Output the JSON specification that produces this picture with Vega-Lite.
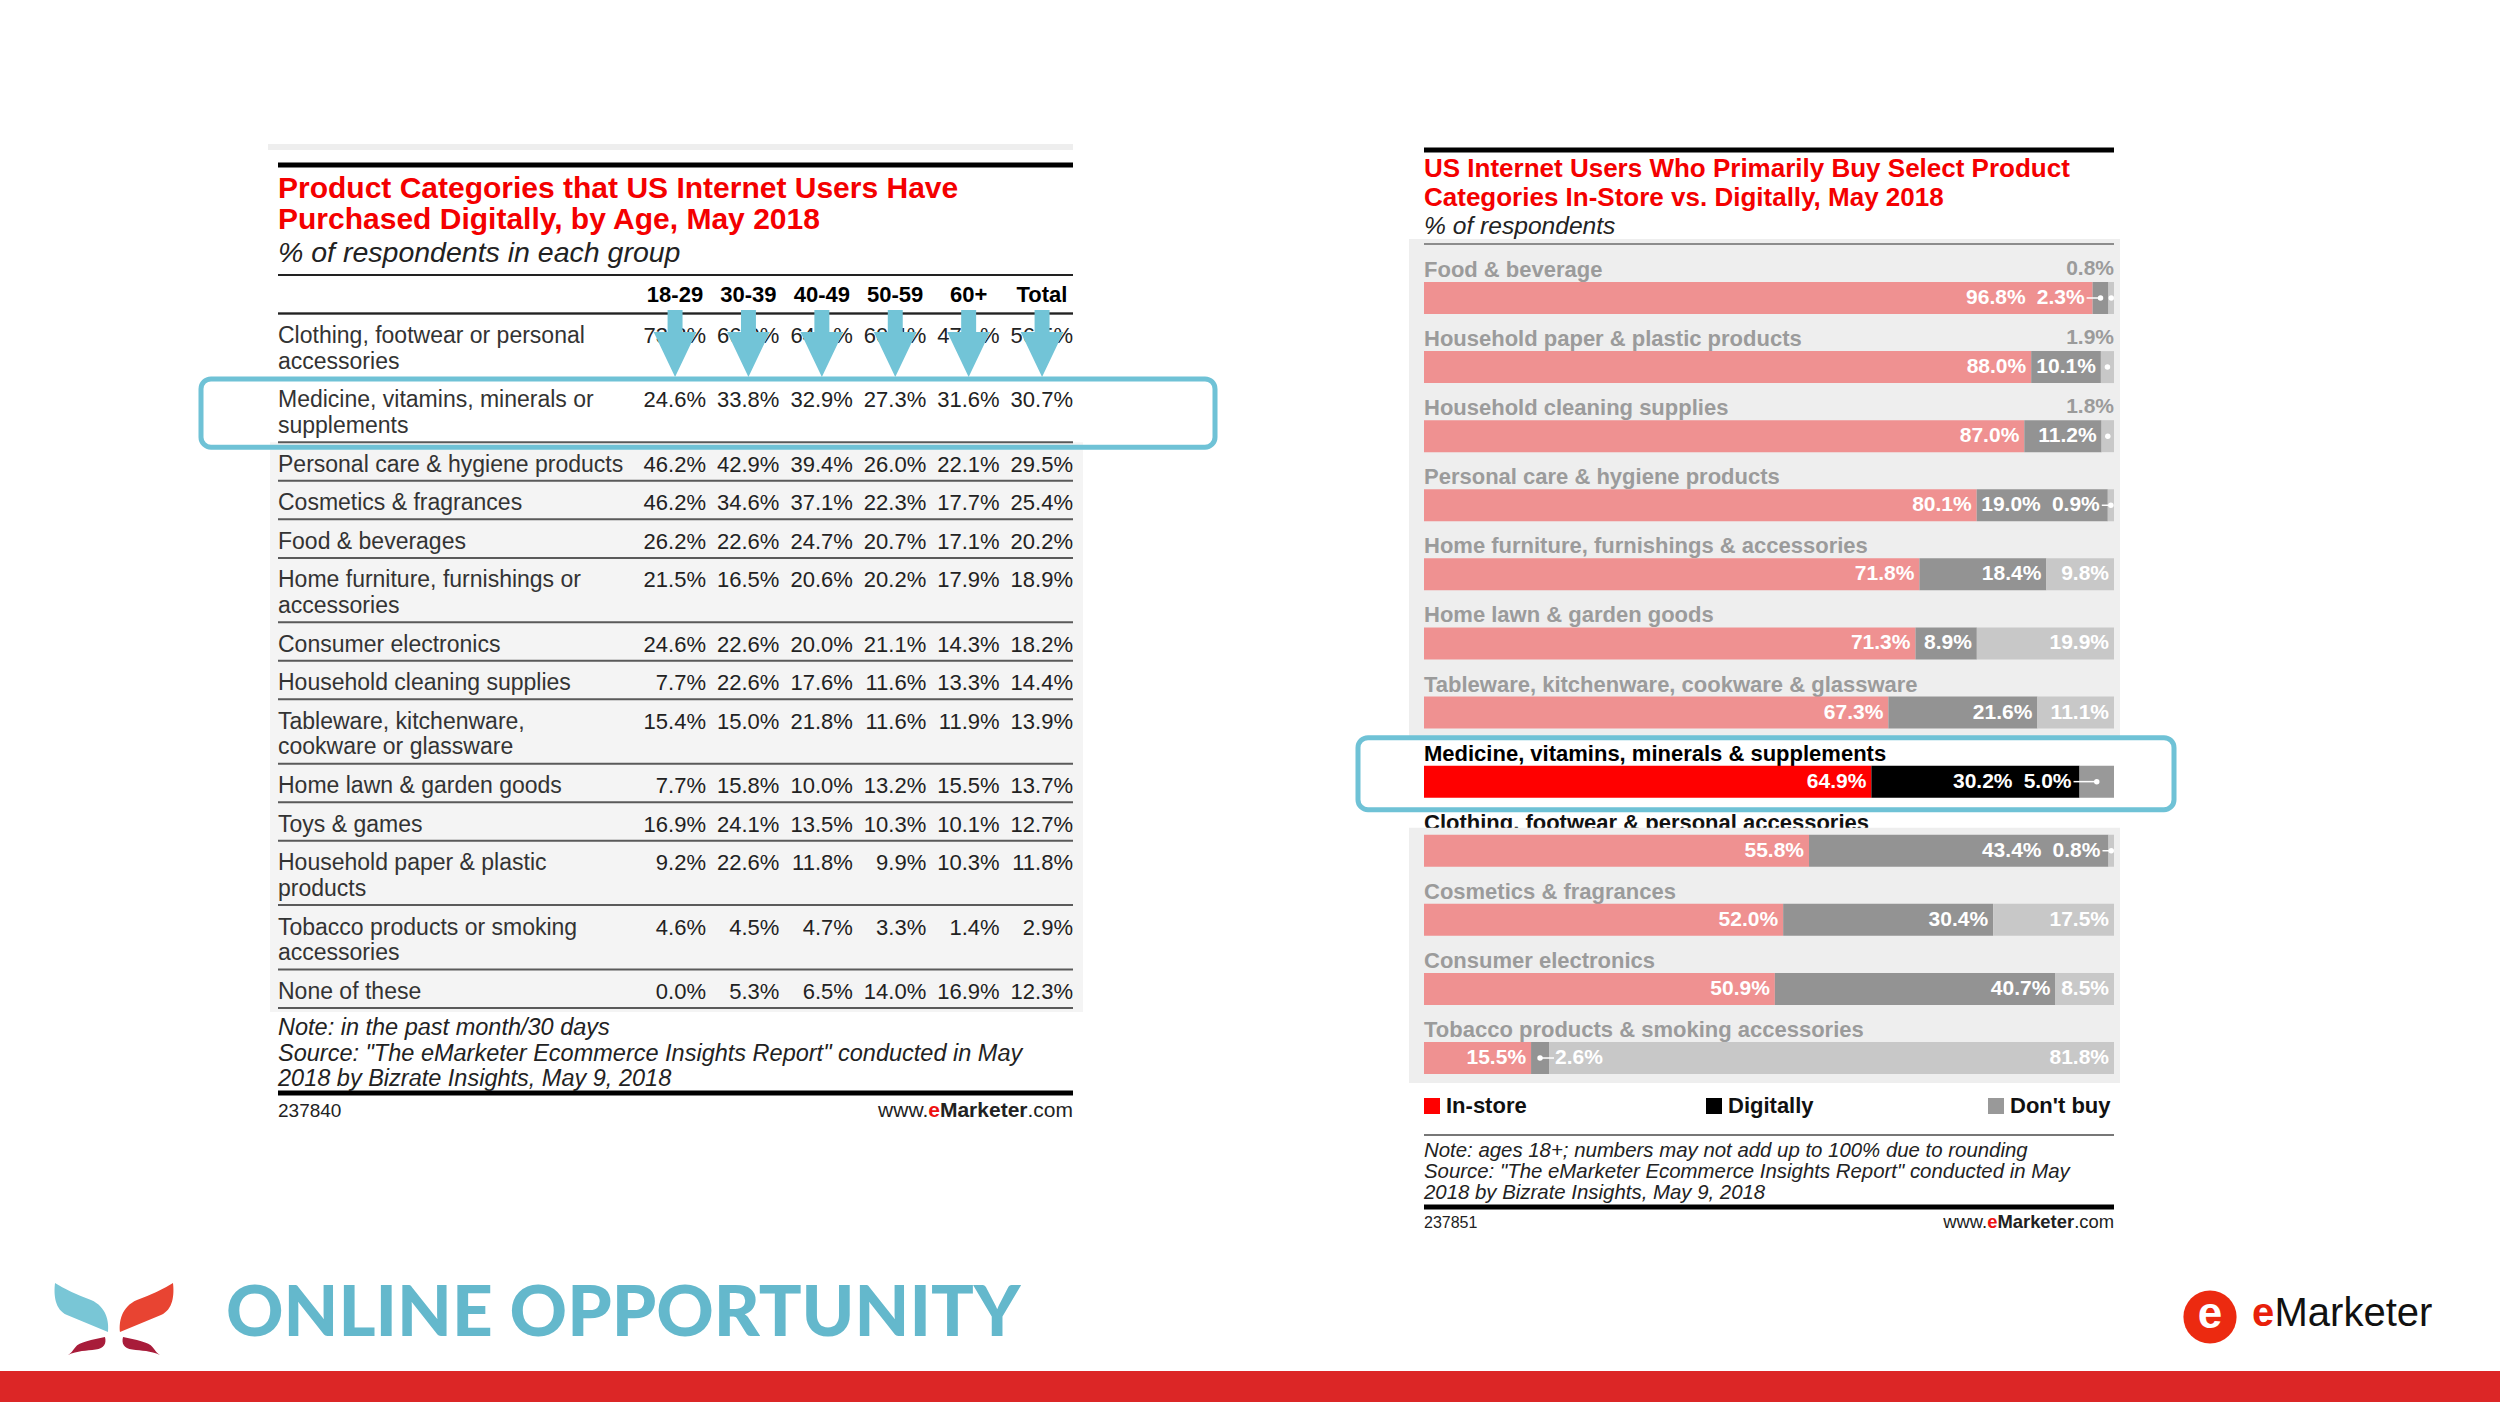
{
"$schema": "https://vega.github.io/schema/vega-lite/v6.json",
"width": 2500, "height": 1402, "autosize": "none", "padding": 0, "background": "#ffffff",
"config": {"view": {"stroke": null}, "font": "Liberation Sans", "axis": {"disable": true}, "legend": {"disable": true}},
"datasets": {
 "tbl": [
  {"k":"clothing","label":"Clothing, footwear or personal\naccessories","18-29":73.8,"30-39":66.0,"40-49":64.1,"50-59":60.4,"60+":47.1,"Total":56.5},
  {"k":"medicine","label":"Medicine, vitamins, minerals or\nsupplements","18-29":24.6,"30-39":33.8,"40-49":32.9,"50-59":27.3,"60+":31.6,"Total":30.7},
  {"k":"personal","label":"Personal care & hygiene products","18-29":46.2,"30-39":42.9,"40-49":39.4,"50-59":26.0,"60+":22.1,"Total":29.5},
  {"k":"cosmetics","label":"Cosmetics & fragrances","18-29":46.2,"30-39":34.6,"40-49":37.1,"50-59":22.3,"60+":17.7,"Total":25.4},
  {"k":"food","label":"Food & beverages","18-29":26.2,"30-39":22.6,"40-49":24.7,"50-59":20.7,"60+":17.1,"Total":20.2},
  {"k":"furniture","label":"Home furniture, furnishings or\naccessories","18-29":21.5,"30-39":16.5,"40-49":20.6,"50-59":20.2,"60+":17.9,"Total":18.9},
  {"k":"electronics","label":"Consumer electronics","18-29":24.6,"30-39":22.6,"40-49":20.0,"50-59":21.1,"60+":14.3,"Total":18.2},
  {"k":"cleaning","label":"Household cleaning supplies","18-29":7.7,"30-39":22.6,"40-49":17.6,"50-59":11.6,"60+":13.3,"Total":14.4},
  {"k":"tableware","label":"Tableware, kitchenware,\ncookware or glassware","18-29":15.4,"30-39":15.0,"40-49":21.8,"50-59":11.6,"60+":11.9,"Total":13.9},
  {"k":"lawn","label":"Home lawn & garden goods","18-29":7.7,"30-39":15.8,"40-49":10.0,"50-59":13.2,"60+":15.5,"Total":13.7},
  {"k":"toys","label":"Toys & games","18-29":16.9,"30-39":24.1,"40-49":13.5,"50-59":10.3,"60+":10.1,"Total":12.7},
  {"k":"paper","label":"Household paper & plastic\nproducts","18-29":9.2,"30-39":22.6,"40-49":11.8,"50-59":9.9,"60+":10.3,"Total":11.8},
  {"k":"tobacco","label":"Tobacco products or smoking\naccessories","18-29":4.6,"30-39":4.5,"40-49":4.7,"50-59":3.3,"60+":1.4,"Total":2.9},
  {"k":"none","label":"None of these","18-29":0.0,"30-39":5.3,"40-49":6.5,"50-59":14.0,"60+":16.9,"Total":12.3}
 ],
 "bars": [
  {"k":"food","name":"Food & beverage","in":96.8,"dig":2.3,"no":0.8},
  {"k":"paper","name":"Household paper & plastic products","in":88.0,"dig":10.1,"no":1.9},
  {"k":"cleaning","name":"Household cleaning supplies","in":87.0,"dig":11.2,"no":1.8},
  {"k":"personal","name":"Personal care & hygiene products","in":80.1,"dig":19.0,"no":0.9},
  {"k":"furniture","name":"Home furniture, furnishings & accessories","in":71.8,"dig":18.4,"no":9.8},
  {"k":"lawn","name":"Home lawn & garden goods","in":71.3,"dig":8.9,"no":19.9},
  {"k":"tableware","name":"Tableware, kitchenware, cookware & glassware","in":67.3,"dig":21.6,"no":11.1},
  {"k":"medicine","name":"Medicine, vitamins, minerals & supplements","in":64.9,"dig":30.2,"no":5.0},
  {"k":"clothing","name":"Clothing, footwear & personal accessories","in":55.8,"dig":43.4,"no":0.8},
  {"k":"cosmetics","name":"Cosmetics & fragrances","in":52.0,"dig":30.4,"no":17.5},
  {"k":"electronics","name":"Consumer electronics","in":50.9,"dig":40.7,"no":8.5},
  {"k":"tobacco","name":"Tobacco products & smoking accessories","in":15.5,"dig":2.6,"no":81.8}
 ],
 "legend": [{"seg":"in","label":"In-store"},{"seg":"dig","label":"Digitally"},{"seg":"no","label":"Don't buy"}],
 "logo": [{"part":"wl"},{"part":"wr"},{"part":"ll"},{"part":"lr"}],
 "one": [{"id":1}]
},
"layer": [
 {"data":{"name":"one"},
  "layer":[
   {"mark":{"type":"rule","color":"#eeeeee","strokeWidth":6,"yOffset":-18,"xOffset":-10},
    "encoding":{"x":{"datum":"L","type":"nominal","scale":{"type":"point","domain":["L","R"],"range":[278,1073],"padding":0}},"x2":{"datum":"R"},
     "y":{"datum":"top","type":"nominal","scale":{"type":"point","domain":["top","bottom"],"range":[165,1093],"padding":0}}}},
   {"mark":{"type":"rule","color":"#000000","strokeWidth":5},
    "encoding":{"x":{"datum":"L","type":"nominal","scale":{"type":"point","domain":["L","R"],"range":[278,1073],"padding":0}},"x2":{"datum":"R"},
     "y":{"datum":"top","type":"nominal","scale":{"type":"point","domain":["top","bottom"],"range":[165,1093],"padding":0}}}},
   {"mark":{"type":"rule","color":"#000000","strokeWidth":5},
    "encoding":{"x":{"datum":"L","type":"nominal","scale":{"type":"point","domain":["L","R"],"range":[278,1073],"padding":0}},"x2":{"datum":"R"},
     "y":{"datum":"bottom","type":"nominal","scale":{"type":"point","domain":["top","bottom"],"range":[165,1093],"padding":0}}}}
  ]},
 {"data":{"name":"one"},
  "layer":[
   {"mark":{"type":"text","align":"left","baseline":"alphabetic","fontSize":30,"fontWeight":"bold","color":"#f40000","lineHeight":31},
    "encoding":{"x":{"datum":"L","type":"nominal","scale":{"type":"point","domain":["L","R"],"range":[278,1073],"padding":0}},
     "y":{"datum":"title","type":"nominal","scale":{"type":"point","domain":["title","subtitle"],"range":[198,262],"padding":0}},
     "text":{"value":["Product Categories that US Internet Users Have","Purchased Digitally, by Age, May 2018"]}}},
   {"mark":{"type":"text","align":"left","baseline":"alphabetic","fontSize":28.5,"fontStyle":"italic","color":"#222222"},
    "encoding":{"x":{"datum":"L","type":"nominal","scale":{"type":"point","domain":["L","R"],"range":[278,1073],"padding":0}},
     "y":{"datum":"subtitle","type":"nominal","scale":{"type":"point","domain":["title","subtitle"],"range":[198,262],"padding":0}},
     "text":{"value":"% of respondents in each group"}}}
  ]},
 {"data":{"name":"one"},
  "layer":[
   {"mark":{"type":"text","align":"left","baseline":"alphabetic","fontSize":23.5,"fontStyle":"italic","color":"#222222","lineHeight":25.5},
    "encoding":{"x":{"datum":"L","type":"nominal","scale":{"type":"point","domain":["L","R"],"range":[278,1073],"padding":0}},
     "y":{"datum":"notes","type":"nominal","scale":{"type":"point","domain":["notes","footer"],"range":[1035,1117],"padding":0}},
     "text":{"value":["Note: in the past month/30 days","Source: \"The eMarketer Ecommerce Insights Report\" conducted in May","2018 by Bizrate Insights, May 9, 2018"]}}},
   {"mark":{"type":"text","align":"left","baseline":"alphabetic","fontSize":19,"color":"#222222"},
    "encoding":{"x":{"datum":"L","type":"nominal","scale":{"type":"point","domain":["L","R"],"range":[278,1073],"padding":0}},
     "y":{"datum":"footer","type":"nominal","scale":{"type":"point","domain":["notes","footer"],"range":[1035,1117],"padding":0}},
     "text":{"value":"237840"}}},
   {"mark":{"type":"text","align":"right","baseline":"alphabetic","fontSize":21,"color":"#222222"},
    "encoding":{"x":{"datum":"R","type":"nominal","scale":{"type":"point","domain":["L","R"],"range":[278,1073],"padding":0}},
     "y":{"datum":"footer","type":"nominal","scale":{"type":"point","domain":["notes","footer"],"range":[1035,1117],"padding":0}},
     "text":{"value":".com"}}},
   {"mark":{"type":"text","align":"right","baseline":"alphabetic","fontSize":21,"fontWeight":"bold","color":"#222222","dx":-45.5},
    "encoding":{"x":{"datum":"R","type":"nominal","scale":{"type":"point","domain":["L","R"],"range":[278,1073],"padding":0}},
     "y":{"datum":"footer","type":"nominal","scale":{"type":"point","domain":["notes","footer"],"range":[1035,1117],"padding":0}},
     "text":{"value":"Marketer"}}},
   {"mark":{"type":"text","align":"right","baseline":"alphabetic","fontSize":21,"fontWeight":"bold","color":"#ee1111","dx":-133},
    "encoding":{"x":{"datum":"R","type":"nominal","scale":{"type":"point","domain":["L","R"],"range":[278,1073],"padding":0}},
     "y":{"datum":"footer","type":"nominal","scale":{"type":"point","domain":["notes","footer"],"range":[1035,1117],"padding":0}},
     "text":{"value":"e"}}},
   {"mark":{"type":"text","align":"right","baseline":"alphabetic","fontSize":21,"color":"#222222","dx":-144.7},
    "encoding":{"x":{"datum":"R","type":"nominal","scale":{"type":"point","domain":["L","R"],"range":[278,1073],"padding":0}},
     "y":{"datum":"footer","type":"nominal","scale":{"type":"point","domain":["notes","footer"],"range":[1035,1117],"padding":0}},
     "text":{"value":"www."}}}
  ]},
 {"data":{"name":"tbl"},
  "layer":[
   {"transform":[{"filter":"datum.k == 'none'"}],
    "mark":{"type":"rect","fill":"#f4f4f4","xOffset":-8,"x2Offset":10,"y2Offset":4},
    "encoding":{"x":{"datum":"L","type":"nominal","scale":{"type":"point","domain":["L","R"],"range":[278,1073],"padding":0}},"x2":{"datum":"R"},
     "y":{"datum":"personal","type":"nominal","bandPosition":0,"scale":{"type":"band","domain":["header","header_1","header_2","clothing","clothing_1","clothing_2","clothing_3","clothing_4","medicine","medicine_1","medicine_2","medicine_3","medicine_4","personal","personal_1","personal_2","cosmetics","cosmetics_1","cosmetics_2","food","food_1","food_2","furniture","furniture_1","furniture_2","furniture_3","furniture_4","electronics","electronics_1","electronics_2","cleaning","cleaning_1","cleaning_2","tableware","tableware_1","tableware_2","tableware_3","tableware_4","lawn","lawn_1","lawn_2","toys","toys_1","toys_2","paper","paper_1","paper_2","paper_3","paper_4","tobacco","tobacco_1","tobacco_2","tobacco_3","tobacco_4","none","none_1","none_2"],"range":[275,1008],"paddingInner":0,"paddingOuter":0}},
     "y2":{"datum":"none_2","bandPosition":1}}},
   {"mark":{"type":"rule","color":"#5a5a5a","strokeWidth":2},
    "encoding":{"x":{"datum":"L","type":"nominal","scale":{"type":"point","domain":["L","R"],"range":[278,1073],"padding":0}},"x2":{"datum":"R"},
     "y":{"field":"k","type":"nominal","bandPosition":0,"scale":{"type":"band","domain":["header","header_1","header_2","clothing","clothing_1","clothing_2","clothing_3","clothing_4","medicine","medicine_1","medicine_2","medicine_3","medicine_4","personal","personal_1","personal_2","cosmetics","cosmetics_1","cosmetics_2","food","food_1","food_2","furniture","furniture_1","furniture_2","furniture_3","furniture_4","electronics","electronics_1","electronics_2","cleaning","cleaning_1","cleaning_2","tableware","tableware_1","tableware_2","tableware_3","tableware_4","lawn","lawn_1","lawn_2","toys","toys_1","toys_2","paper","paper_1","paper_2","paper_3","paper_4","tobacco","tobacco_1","tobacco_2","tobacco_3","tobacco_4","none","none_1","none_2"],"range":[275,1008],"paddingInner":0,"paddingOuter":0}}}},
   {"transform":[{"filter":"datum.k == 'none'"}],
    "mark":{"type":"rule","color":"#5a5a5a","strokeWidth":2},
    "encoding":{"x":{"datum":"L","type":"nominal","scale":{"type":"point","domain":["L","R"],"range":[278,1073],"padding":0}},"x2":{"datum":"R"},
     "y":{"datum":"none_2","type":"nominal","bandPosition":1,"scale":{"type":"band","domain":["header","header_1","header_2","clothing","clothing_1","clothing_2","clothing_3","clothing_4","medicine","medicine_1","medicine_2","medicine_3","medicine_4","personal","personal_1","personal_2","cosmetics","cosmetics_1","cosmetics_2","food","food_1","food_2","furniture","furniture_1","furniture_2","furniture_3","furniture_4","electronics","electronics_1","electronics_2","cleaning","cleaning_1","cleaning_2","tableware","tableware_1","tableware_2","tableware_3","tableware_4","lawn","lawn_1","lawn_2","toys","toys_1","toys_2","paper","paper_1","paper_2","paper_3","paper_4","tobacco","tobacco_1","tobacco_2","tobacco_3","tobacco_4","none","none_1","none_2"],"range":[275,1008],"paddingInner":0,"paddingOuter":0}}}},
   {"transform":[{"filter":"datum.k == 'none'"}],
    "mark":{"type":"rule","color":"#222222","strokeWidth":2},
    "encoding":{"x":{"datum":"L","type":"nominal","scale":{"type":"point","domain":["L","R"],"range":[278,1073],"padding":0}},"x2":{"datum":"R"},
     "y":{"datum":"header","type":"nominal","bandPosition":0,"scale":{"type":"band","domain":["header","header_1","header_2","clothing","clothing_1","clothing_2","clothing_3","clothing_4","medicine","medicine_1","medicine_2","medicine_3","medicine_4","personal","personal_1","personal_2","cosmetics","cosmetics_1","cosmetics_2","food","food_1","food_2","furniture","furniture_1","furniture_2","furniture_3","furniture_4","electronics","electronics_1","electronics_2","cleaning","cleaning_1","cleaning_2","tableware","tableware_1","tableware_2","tableware_3","tableware_4","lawn","lawn_1","lawn_2","toys","toys_1","toys_2","paper","paper_1","paper_2","paper_3","paper_4","tobacco","tobacco_1","tobacco_2","tobacco_3","tobacco_4","none","none_1","none_2"],"range":[275,1008],"paddingInner":0,"paddingOuter":0}}}},
   {"transform":[{"filter":"datum.k == 'clothing'"}],
    "mark":{"type":"rule","color":"#222222","strokeWidth":2},
    "encoding":{"x":{"datum":"L","type":"nominal","scale":{"type":"point","domain":["L","R"],"range":[278,1073],"padding":0}},"x2":{"datum":"R"},
     "y":{"field":"k","type":"nominal","bandPosition":0,"scale":{"type":"band","domain":["header","header_1","header_2","clothing","clothing_1","clothing_2","clothing_3","clothing_4","medicine","medicine_1","medicine_2","medicine_3","medicine_4","personal","personal_1","personal_2","cosmetics","cosmetics_1","cosmetics_2","food","food_1","food_2","furniture","furniture_1","furniture_2","furniture_3","furniture_4","electronics","electronics_1","electronics_2","cleaning","cleaning_1","cleaning_2","tableware","tableware_1","tableware_2","tableware_3","tableware_4","lawn","lawn_1","lawn_2","toys","toys_1","toys_2","paper","paper_1","paper_2","paper_3","paper_4","tobacco","tobacco_1","tobacco_2","tobacco_3","tobacco_4","none","none_1","none_2"],"range":[275,1008],"paddingInner":0,"paddingOuter":0}}}},
   {"mark":{"type":"text","align":"left","baseline":"alphabetic","fontSize":23,"color":"#333333","dy":29.5,"lineBreak":"\n","lineHeight":25.5},
    "encoding":{"x":{"datum":"L","type":"nominal","scale":{"type":"point","domain":["L","R"],"range":[278,1073],"padding":0}},
     "y":{"field":"k","type":"nominal","bandPosition":0,"scale":{"type":"band","domain":["header","header_1","header_2","clothing","clothing_1","clothing_2","clothing_3","clothing_4","medicine","medicine_1","medicine_2","medicine_3","medicine_4","personal","personal_1","personal_2","cosmetics","cosmetics_1","cosmetics_2","food","food_1","food_2","furniture","furniture_1","furniture_2","furniture_3","furniture_4","electronics","electronics_1","electronics_2","cleaning","cleaning_1","cleaning_2","tableware","tableware_1","tableware_2","tableware_3","tableware_4","lawn","lawn_1","lawn_2","toys","toys_1","toys_2","paper","paper_1","paper_2","paper_3","paper_4","tobacco","tobacco_1","tobacco_2","tobacco_3","tobacco_4","none","none_1","none_2"],"range":[275,1008],"paddingInner":0,"paddingOuter":0}},
     "text":{"field":"label"}}},
   {"transform":[{"filter":"datum.k == 'medicine'"}],
    "mark":{"type":"rect","fill":"transparent","stroke":"#6fc2d6","strokeWidth":5,"cornerRadius":10,"xOffset":-77,"x2Offset":142,"yOffset":1,"y2Offset":5},
    "encoding":{"x":{"datum":"L","type":"nominal","scale":{"type":"point","domain":["L","R"],"range":[278,1073],"padding":0}},"x2":{"datum":"R"},
     "y":{"datum":"medicine","type":"nominal","bandPosition":0,"scale":{"type":"band","domain":["header","header_1","header_2","clothing","clothing_1","clothing_2","clothing_3","clothing_4","medicine","medicine_1","medicine_2","medicine_3","medicine_4","personal","personal_1","personal_2","cosmetics","cosmetics_1","cosmetics_2","food","food_1","food_2","furniture","furniture_1","furniture_2","furniture_3","furniture_4","electronics","electronics_1","electronics_2","cleaning","cleaning_1","cleaning_2","tableware","tableware_1","tableware_2","tableware_3","tableware_4","lawn","lawn_1","lawn_2","toys","toys_1","toys_2","paper","paper_1","paper_2","paper_3","paper_4","tobacco","tobacco_1","tobacco_2","tobacco_3","tobacco_4","none","none_1","none_2"],"range":[275,1008],"paddingInner":0,"paddingOuter":0}},
     "y2":{"datum":"personal","bandPosition":0}}}
  ]},
 {"data":{"name":"tbl"},
  "transform":[{"fold":["18-29","30-39","40-49","50-59","60+","Total"],"as":["age","v"]},{"calculate":"format(datum.v, '.1f') + '%'","as":"t"}],
  "layer":[
   {"mark":{"type":"text","align":"right","baseline":"alphabetic","fontSize":22,"color":"#222222","dy":29.5},
    "encoding":{"x":{"field":"age","type":"nominal","scale":{"type":"point","domain":["18-29","30-39","40-49","50-59","60+","Total"],"range":[706,1073],"padding":0}},
     "y":{"field":"k","type":"nominal","bandPosition":0,"scale":{"type":"band","domain":["header","header_1","header_2","clothing","clothing_1","clothing_2","clothing_3","clothing_4","medicine","medicine_1","medicine_2","medicine_3","medicine_4","personal","personal_1","personal_2","cosmetics","cosmetics_1","cosmetics_2","food","food_1","food_2","furniture","furniture_1","furniture_2","furniture_3","furniture_4","electronics","electronics_1","electronics_2","cleaning","cleaning_1","cleaning_2","tableware","tableware_1","tableware_2","tableware_3","tableware_4","lawn","lawn_1","lawn_2","toys","toys_1","toys_2","paper","paper_1","paper_2","paper_3","paper_4","tobacco","tobacco_1","tobacco_2","tobacco_3","tobacco_4","none","none_1","none_2"],"range":[275,1008],"paddingInner":0,"paddingOuter":0}},
     "text":{"field":"t"}}},
   {"transform":[{"filter":"datum.k == 'none'"}],
    "mark":{"type":"text","align":"center","baseline":"alphabetic","fontSize":22,"fontWeight":"bold","color":"#000000","dy":27,"dx":-31},
    "encoding":{"x":{"field":"age","type":"nominal","scale":{"type":"point","domain":["18-29","30-39","40-49","50-59","60+","Total"],"range":[706,1073],"padding":0}},
     "y":{"datum":"header","type":"nominal","bandPosition":0,"scale":{"type":"band","domain":["header","header_1","header_2","clothing","clothing_1","clothing_2","clothing_3","clothing_4","medicine","medicine_1","medicine_2","medicine_3","medicine_4","personal","personal_1","personal_2","cosmetics","cosmetics_1","cosmetics_2","food","food_1","food_2","furniture","furniture_1","furniture_2","furniture_3","furniture_4","electronics","electronics_1","electronics_2","cleaning","cleaning_1","cleaning_2","tableware","tableware_1","tableware_2","tableware_3","tableware_4","lawn","lawn_1","lawn_2","toys","toys_1","toys_2","paper","paper_1","paper_2","paper_3","paper_4","tobacco","tobacco_1","tobacco_2","tobacco_3","tobacco_4","none","none_1","none_2"],"range":[275,1008],"paddingInner":0,"paddingOuter":0}},
     "text":{"field":"age"}}},
   {"transform":[{"filter":"datum.k == 'none'"}],
    "mark":{"type":"point","shape":"M-1.13,-0.106 L-0.69,-0.106 L-0.69,0.54 L-0.28,0.54 L-0.91,1.865 L-1.54,0.54 L-1.13,0.54 Z","size":4624,"filled":true,"fill":"#72c4d7","opacity":1,"strokeWidth":0},
    "encoding":{"x":{"field":"age","type":"nominal","scale":{"type":"point","domain":["18-29","30-39","40-49","50-59","60+","Total"],"range":[706,1073],"padding":0}},
     "y":{"datum":"clothing","type":"nominal","bandPosition":0,"scale":{"type":"band","domain":["header","header_1","header_2","clothing","clothing_1","clothing_2","clothing_3","clothing_4","medicine","medicine_1","medicine_2","medicine_3","medicine_4","personal","personal_1","personal_2","cosmetics","cosmetics_1","cosmetics_2","food","food_1","food_2","furniture","furniture_1","furniture_2","furniture_3","furniture_4","electronics","electronics_1","electronics_2","cleaning","cleaning_1","cleaning_2","tableware","tableware_1","tableware_2","tableware_3","tableware_4","lawn","lawn_1","lawn_2","toys","toys_1","toys_2","paper","paper_1","paper_2","paper_3","paper_4","tobacco","tobacco_1","tobacco_2","tobacco_3","tobacco_4","none","none_1","none_2"],"range":[275,1008],"paddingInner":0,"paddingOuter":0}}}}
  ]},
 {"data":{"name":"bars"},
  "transform":[
   {"fold":["in","dig","no"],"as":["seg","v"]},
   {"calculate":"indexof(['in','dig','no'], datum.seg)","as":"o"},
   {"stack":"v","groupby":["k"],"sort":[{"field":"o","order":"ascending"}],"as":["v0","v1"],"offset":"normalize"},
   {"calculate":"(datum.v0 + datum.v1) / 2","as":"m"},
   {"calculate":"datum.k + '|' + datum.seg","as":"key"},
   {"calculate":"format(datum.v, '.1f') + '%'","as":"t"}
  ],
  "layer":[
   {"transform":[{"filter":"datum.key == 'food|in'"}],
    "mark":{"type":"rect","fill":"#eeeeee","xOffset":-15,"x2Offset":6,"yOffset":-43,"y2Offset":-29},
    "encoding":{"x":{"datum":0,"type":"quantitative","scale":{"type":"linear","domain":[0,1],"range":[1424,2114],"zero":false,"nice":false}},"x2":{"datum":1},
     "y":{"datum":"food","type":"nominal","bandPosition":0,"scale":{"type":"band","domain":["food","paper","cleaning","personal","furniture","lawn","tableware","medicine","clothing","cosmetics","electronics","tobacco"],"range":[282,1074],"paddingInner":0.537,"paddingOuter":0}},
     "y2":{"datum":"medicine","bandPosition":0}}},
   {"transform":[{"filter":"datum.key == 'clothing|in'"}],
    "mark":{"type":"text","align":"left","baseline":"alphabetic","fontSize":22,"fontWeight":"bold","color":"#111111","dy":-5},
    "encoding":{"x":{"datum":0,"type":"quantitative","scale":{"type":"linear","domain":[0,1],"range":[1424,2114],"zero":false,"nice":false}},
     "y":{"field":"k","type":"nominal","bandPosition":0,"scale":{"type":"band","domain":["food","paper","cleaning","personal","furniture","lawn","tableware","medicine","clothing","cosmetics","electronics","tobacco"],"range":[282,1074],"paddingInner":0.537,"paddingOuter":0}},
     "text":{"field":"name"}}},
   {"transform":[{"filter":"datum.key == 'food|in'"}],
    "mark":{"type":"rect","fill":"#eeeeee","xOffset":-15,"x2Offset":6,"yOffset":-7,"y2Offset":9},
    "encoding":{"x":{"datum":0,"type":"quantitative","scale":{"type":"linear","domain":[0,1],"range":[1424,2114],"zero":false,"nice":false}},"x2":{"datum":1},
     "y":{"datum":"clothing","type":"nominal","bandPosition":0,"scale":{"type":"band","domain":["food","paper","cleaning","personal","furniture","lawn","tableware","medicine","clothing","cosmetics","electronics","tobacco"],"range":[282,1074],"paddingInner":0.537,"paddingOuter":0}},
     "y2":{"datum":"tobacco","bandPosition":1}}},
   {"transform":[{"filter":"datum.key == 'food|in'"}],
    "mark":{"type":"rule","color":"#8c8c8c","strokeWidth":2,"yOffset":-38},
    "encoding":{"x":{"datum":0,"type":"quantitative","scale":{"type":"linear","domain":[0,1],"range":[1424,2114],"zero":false,"nice":false}},"x2":{"datum":1},
     "y":{"datum":"food","type":"nominal","bandPosition":0,"scale":{"type":"band","domain":["food","paper","cleaning","personal","furniture","lawn","tableware","medicine","clothing","cosmetics","electronics","tobacco"],"range":[282,1074],"paddingInner":0.537,"paddingOuter":0}}}},
   {"transform":[{"filter":"datum.seg == 'in' && datum.k != 'medicine' && datum.k != 'clothing'"}],
    "mark":{"type":"text","align":"left","baseline":"alphabetic","fontSize":22,"fontWeight":"bold","color":"#9b9b9b","dy":-5},
    "encoding":{"x":{"datum":0,"type":"quantitative","scale":{"type":"linear","domain":[0,1],"range":[1424,2114],"zero":false,"nice":false}},
     "y":{"field":"k","type":"nominal","bandPosition":0,"scale":{"type":"band","domain":["food","paper","cleaning","personal","furniture","lawn","tableware","medicine","clothing","cosmetics","electronics","tobacco"],"range":[282,1074],"paddingInner":0.537,"paddingOuter":0}},
     "text":{"field":"name"}}},
   {"transform":[{"filter":"datum.key == 'medicine|in'"}],
    "mark":{"type":"text","align":"left","baseline":"alphabetic","fontSize":22,"fontWeight":"bold","color":"#000000","dy":-5},
    "encoding":{"x":{"datum":0,"type":"quantitative","scale":{"type":"linear","domain":[0,1],"range":[1424,2114],"zero":false,"nice":false}},
     "y":{"field":"k","type":"nominal","bandPosition":0,"scale":{"type":"band","domain":["food","paper","cleaning","personal","furniture","lawn","tableware","medicine","clothing","cosmetics","electronics","tobacco"],"range":[282,1074],"paddingInner":0.537,"paddingOuter":0}},
     "text":{"field":"name"}}},
   {"transform":[{"filter":"datum.k != 'medicine'"}],
    "mark":{"type":"rect"},
    "encoding":{"x":{"field":"v0","type":"quantitative","scale":{"type":"linear","domain":[0,1],"range":[1424,2114],"zero":false,"nice":false}},"x2":{"field":"v1"},
     "y":{"field":"k","type":"nominal","scale":{"type":"band","domain":["food","paper","cleaning","personal","furniture","lawn","tableware","medicine","clothing","cosmetics","electronics","tobacco"],"range":[282,1074],"paddingInner":0.537,"paddingOuter":0}},
     "color":{"field":"seg","type":"nominal","scale":{"domain":["in","dig","no"],"range":["#ef9191","#939393","#c8c8c8"]}}}},
   {"transform":[{"filter":"datum.k == 'medicine'"}],
    "mark":{"type":"rect"},
    "encoding":{"x":{"field":"v0","type":"quantitative","scale":{"type":"linear","domain":[0,1],"range":[1424,2114],"zero":false,"nice":false}},"x2":{"field":"v1"},
     "y":{"field":"k","type":"nominal","scale":{"type":"band","domain":["food","paper","cleaning","personal","furniture","lawn","tableware","medicine","clothing","cosmetics","electronics","tobacco"],"range":[282,1074],"paddingInner":0.537,"paddingOuter":0}},
     "fill":{"field":"seg","type":"nominal","scale":{"domain":["in","dig","no"],"range":["#ff0000","#000000","#999999"]}}}},
   {"transform":[{"filter":"indexof(['food|in','personal|dig','medicine|dig','clothing|dig','food|dig','personal|no','medicine|no','clothing|no','food|no','paper|no','cleaning|no','tobacco|dig'], datum.key) < 0"}],
    "mark":{"type":"text","align":"right","baseline":"middle","fontSize":21,"fontWeight":"bold","color":"#ffffff","dx":-5},
    "encoding":{"x":{"field":"v1","type":"quantitative","scale":{"type":"linear","domain":[0,1],"range":[1424,2114],"zero":false,"nice":false}},
     "y":{"field":"k","type":"nominal","bandPosition":0.5,"scale":{"type":"band","domain":["food","paper","cleaning","personal","furniture","lawn","tableware","medicine","clothing","cosmetics","electronics","tobacco"],"range":[282,1074],"paddingInner":0.537,"paddingOuter":0}},
     "text":{"field":"t"}}},
   {"transform":[{"filter":"indexof(['food|in','personal|dig','medicine|dig','clothing|dig'], datum.key) >= 0"}],
    "mark":{"type":"text","align":"right","baseline":"middle","fontSize":21,"fontWeight":"bold","color":"#ffffff","dx":-67},
    "encoding":{"x":{"field":"v1","type":"quantitative","scale":{"type":"linear","domain":[0,1],"range":[1424,2114],"zero":false,"nice":false}},
     "y":{"field":"k","type":"nominal","bandPosition":0.5,"scale":{"type":"band","domain":["food","paper","cleaning","personal","furniture","lawn","tableware","medicine","clothing","cosmetics","electronics","tobacco"],"range":[282,1074],"paddingInner":0.537,"paddingOuter":0}},
     "text":{"field":"t"}}},
   {"transform":[{"filter":"indexof(['food|dig','personal|no','medicine|no','clothing|no'], datum.key) >= 0"}],
    "mark":{"type":"text","align":"right","baseline":"middle","fontSize":21,"fontWeight":"bold","color":"#ffffff","dx":-8},
    "encoding":{"x":{"field":"v0","type":"quantitative","scale":{"type":"linear","domain":[0,1],"range":[1424,2114],"zero":false,"nice":false}},
     "y":{"field":"k","type":"nominal","bandPosition":0.5,"scale":{"type":"band","domain":["food","paper","cleaning","personal","furniture","lawn","tableware","medicine","clothing","cosmetics","electronics","tobacco"],"range":[282,1074],"paddingInner":0.537,"paddingOuter":0}},
     "text":{"field":"t"}}},
   {"transform":[{"filter":"indexof(['food|dig','personal|no','medicine|no','clothing|no'], datum.key) >= 0"}],
    "mark":{"type":"rule","color":"#ffffff","strokeWidth":1.5,"xOffset":-6},
    "encoding":{"x":{"field":"v0","type":"quantitative","scale":{"type":"linear","domain":[0,1],"range":[1424,2114],"zero":false,"nice":false}},"x2":{"field":"m"},
     "y":{"field":"k","type":"nominal","bandPosition":0.5,"scale":{"type":"band","domain":["food","paper","cleaning","personal","furniture","lawn","tableware","medicine","clothing","cosmetics","electronics","tobacco"],"range":[282,1074],"paddingInner":0.537,"paddingOuter":0}}}},
   {"transform":[{"filter":"indexof(['food|no','paper|no','cleaning|no'], datum.key) >= 0"}],
    "mark":{"type":"text","align":"right","baseline":"middle","fontSize":21,"fontWeight":"bold","color":"#9b9b9b","dy":-29},
    "encoding":{"x":{"field":"v1","type":"quantitative","scale":{"type":"linear","domain":[0,1],"range":[1424,2114],"zero":false,"nice":false}},
     "y":{"field":"k","type":"nominal","bandPosition":0.5,"scale":{"type":"band","domain":["food","paper","cleaning","personal","furniture","lawn","tableware","medicine","clothing","cosmetics","electronics","tobacco"],"range":[282,1074],"paddingInner":0.537,"paddingOuter":0}},
     "text":{"field":"t"}}},
   {"transform":[{"filter":"datum.key == 'tobacco|dig'"}],
    "mark":{"type":"text","align":"left","baseline":"middle","fontSize":21,"fontWeight":"bold","color":"#ffffff","dx":6},
    "encoding":{"x":{"field":"v1","type":"quantitative","scale":{"type":"linear","domain":[0,1],"range":[1424,2114],"zero":false,"nice":false}},
     "y":{"field":"k","type":"nominal","bandPosition":0.5,"scale":{"type":"band","domain":["food","paper","cleaning","personal","furniture","lawn","tableware","medicine","clothing","cosmetics","electronics","tobacco"],"range":[282,1074],"paddingInner":0.537,"paddingOuter":0}},
     "text":{"field":"t"}}},
   {"transform":[{"filter":"datum.key == 'tobacco|dig'"}],
    "mark":{"type":"rule","color":"#ffffff","strokeWidth":1.5,"x2Offset":5},
    "encoding":{"x":{"field":"m","type":"quantitative","scale":{"type":"linear","domain":[0,1],"range":[1424,2114],"zero":false,"nice":false}},"x2":{"field":"v1"},
     "y":{"field":"k","type":"nominal","bandPosition":0.5,"scale":{"type":"band","domain":["food","paper","cleaning","personal","furniture","lawn","tableware","medicine","clothing","cosmetics","electronics","tobacco"],"range":[282,1074],"paddingInner":0.537,"paddingOuter":0}}}},
   {"transform":[{"filter":"indexof(['food|dig','personal|no','medicine|no','clothing|no','food|no','paper|no','cleaning|no','tobacco|dig'], datum.key) >= 0"}],
    "mark":{"type":"point","shape":"circle","filled":true,"fill":"#ffffff","opacity":1,"size":30,"strokeWidth":0},
    "encoding":{"x":{"field":"m","type":"quantitative","scale":{"type":"linear","domain":[0,1],"range":[1424,2114],"zero":false,"nice":false}},
     "y":{"field":"k","type":"nominal","bandPosition":0.5,"scale":{"type":"band","domain":["food","paper","cleaning","personal","furniture","lawn","tableware","medicine","clothing","cosmetics","electronics","tobacco"],"range":[282,1074],"paddingInner":0.537,"paddingOuter":0}}}},
   {"transform":[{"filter":"datum.key == 'medicine|in'"}],
    "mark":{"type":"rect","fill":"transparent","stroke":"#6fc2d6","strokeWidth":5,"cornerRadius":10,"xOffset":-66,"x2Offset":60,"yOffset":-28,"y2Offset":12},
    "encoding":{"x":{"datum":0,"type":"quantitative","scale":{"type":"linear","domain":[0,1],"range":[1424,2114],"zero":false,"nice":false}},"x2":{"datum":1},
     "y":{"datum":"medicine","type":"nominal","bandPosition":0,"scale":{"type":"band","domain":["food","paper","cleaning","personal","furniture","lawn","tableware","medicine","clothing","cosmetics","electronics","tobacco"],"range":[282,1074],"paddingInner":0.537,"paddingOuter":0}},
     "y2":{"datum":"medicine","bandPosition":1}}}
  ]},
 {"data":{"name":"one"},
  "layer":[
   {"mark":{"type":"text","align":"left","baseline":"alphabetic","fontSize":26,"fontWeight":"bold","color":"#f40000","lineHeight":29},
    "encoding":{"x":{"datum":"L","type":"nominal","scale":{"type":"point","domain":["L","R"],"range":[1424,2114],"padding":0}},
     "y":{"datum":"title","type":"nominal","scale":{"type":"point","domain":["title","subtitle"],"range":[177,234],"padding":0}},
     "text":{"value":["US Internet Users Who Primarily Buy Select Product","Categories In-Store vs. Digitally, May 2018"]}}},
   {"mark":{"type":"text","align":"left","baseline":"alphabetic","fontSize":24.6,"fontStyle":"italic","color":"#222222"},
    "encoding":{"x":{"datum":"L","type":"nominal","scale":{"type":"point","domain":["L","R"],"range":[1424,2114],"padding":0}},
     "y":{"datum":"subtitle","type":"nominal","scale":{"type":"point","domain":["title","subtitle"],"range":[177,234],"padding":0}},
     "text":{"value":"% of respondents"}}}
  ]},
 {"data":{"name":"one"},
  "layer":[
   {"mark":{"type":"rule","color":"#000000","strokeWidth":5},
    "encoding":{"x":{"datum":"L","type":"nominal","scale":{"type":"point","domain":["L","R"],"range":[1424,2114],"padding":0}},"x2":{"datum":"R"},
     "y":{"datum":"top","type":"nominal","scale":{"type":"point","domain":["top","bottom"],"range":[150,1207],"padding":0}}}},
   {"mark":{"type":"rule","color":"#000000","strokeWidth":5},
    "encoding":{"x":{"datum":"L","type":"nominal","scale":{"type":"point","domain":["L","R"],"range":[1424,2114],"padding":0}},"x2":{"datum":"R"},
     "y":{"datum":"bottom","type":"nominal","scale":{"type":"point","domain":["top","bottom"],"range":[150,1207],"padding":0}}}},
   {"mark":{"type":"rule","color":"#777777","strokeWidth":2,"yOffset":-72},
    "encoding":{"x":{"datum":"L","type":"nominal","scale":{"type":"point","domain":["L","R"],"range":[1424,2114],"padding":0}},"x2":{"datum":"R"},
     "y":{"datum":"bottom","type":"nominal","scale":{"type":"point","domain":["top","bottom"],"range":[150,1207],"padding":0}}}}
  ]},
 {"data":{"name":"one"},
  "layer":[
   {"mark":{"type":"text","align":"left","baseline":"alphabetic","fontSize":20.4,"fontStyle":"italic","color":"#222222","lineHeight":21},
    "encoding":{"x":{"datum":"L","type":"nominal","scale":{"type":"point","domain":["L","R"],"range":[1424,2114],"padding":0}},
     "y":{"datum":"notes","type":"nominal","scale":{"type":"point","domain":["notes","footer"],"range":[1157,1228],"padding":0}},
     "text":{"value":["Note: ages 18+; numbers may not add up to 100% due to rounding","Source: \"The eMarketer Ecommerce Insights Report\" conducted in May","2018 by Bizrate Insights, May 9, 2018"]}}},
   {"mark":{"type":"text","align":"left","baseline":"alphabetic","fontSize":16,"color":"#222222"},
    "encoding":{"x":{"datum":"L","type":"nominal","scale":{"type":"point","domain":["L","R"],"range":[1424,2114],"padding":0}},
     "y":{"datum":"footer","type":"nominal","scale":{"type":"point","domain":["notes","footer"],"range":[1157,1228],"padding":0}},
     "text":{"value":"237851"}}},
   {"mark":{"type":"text","align":"right","baseline":"alphabetic","fontSize":18.4,"color":"#222222"},
    "encoding":{"x":{"datum":"R","type":"nominal","scale":{"type":"point","domain":["L","R"],"range":[1424,2114],"padding":0}},
     "y":{"datum":"footer","type":"nominal","scale":{"type":"point","domain":["notes","footer"],"range":[1157,1228],"padding":0}},
     "text":{"value":".com"}}},
   {"mark":{"type":"text","align":"right","baseline":"alphabetic","fontSize":18.4,"fontWeight":"bold","color":"#222222","dx":-39.9},
    "encoding":{"x":{"datum":"R","type":"nominal","scale":{"type":"point","domain":["L","R"],"range":[1424,2114],"padding":0}},
     "y":{"datum":"footer","type":"nominal","scale":{"type":"point","domain":["notes","footer"],"range":[1157,1228],"padding":0}},
     "text":{"value":"Marketer"}}},
   {"mark":{"type":"text","align":"right","baseline":"alphabetic","fontSize":18.4,"fontWeight":"bold","color":"#ee1111","dx":-116.6},
    "encoding":{"x":{"datum":"R","type":"nominal","scale":{"type":"point","domain":["L","R"],"range":[1424,2114],"padding":0}},
     "y":{"datum":"footer","type":"nominal","scale":{"type":"point","domain":["notes","footer"],"range":[1157,1228],"padding":0}},
     "text":{"value":"e"}}},
   {"mark":{"type":"text","align":"right","baseline":"alphabetic","fontSize":18.4,"color":"#222222","dx":-126.8},
    "encoding":{"x":{"datum":"R","type":"nominal","scale":{"type":"point","domain":["L","R"],"range":[1424,2114],"padding":0}},
     "y":{"datum":"footer","type":"nominal","scale":{"type":"point","domain":["notes","footer"],"range":[1157,1228],"padding":0}},
     "text":{"value":"www."}}}
  ]},
 {"data":{"name":"legend"},
  "layer":[
   {"mark":{"type":"point","shape":"square","size":256,"filled":true,"opacity":1,"strokeWidth":0},
    "encoding":{"x":{"field":"seg","type":"nominal","scale":{"type":"point","domain":["in","dig","no"],"range":[1432,1996],"padding":0}},
     "y":{"datum":"legend","type":"nominal","scale":{"type":"point","domain":["legend"],"range":[1106,1106],"padding":0}},
     "fill":{"field":"seg","type":"nominal","scale":{"domain":["in","dig","no"],"range":["#ff0000","#000000","#999999"]}}}},
   {"mark":{"type":"text","align":"left","baseline":"middle","fontSize":22,"fontWeight":"bold","color":"#111111","dx":14},
    "encoding":{"x":{"field":"seg","type":"nominal","scale":{"type":"point","domain":["in","dig","no"],"range":[1432,1996],"padding":0}},
     "y":{"datum":"legend","type":"nominal","scale":{"type":"point","domain":["legend"],"range":[1106,1106],"padding":0}},
     "text":{"field":"label"}}}
  ]},
 {"data":{"name":"one"},
  "mark":{"type":"rect","fill":"#dc2626"},
  "encoding":{"x":{"datum":"L","type":"nominal","scale":{"type":"point","domain":["L","R"],"range":[0,2500],"padding":0}},"x2":{"datum":"R"},
   "y":{"datum":"t","type":"nominal","scale":{"type":"point","domain":["t","b"],"range":[1371,1402],"padding":0}},"y2":{"datum":"b"}}},
 {"data":{"name":"one"},
  "layer":[
   {"mark":{"type":"text","align":"left","baseline":"alphabetic","fontSize":71,"font":"Lato","fontWeight":900,"color":"#64b8cc"},
    "encoding":{"x":{"datum":"banner","type":"nominal","scale":{"type":"point","domain":["banner","emk"],"range":[226,2252],"padding":0}},
     "y":{"datum":"banner","type":"nominal","scale":{"type":"point","domain":["emk","banner"],"range":[1326,1336],"padding":0}},
     "text":{"value":"ONLINE OPPORTUNITY"}}},
   {"mark":{"type":"text","align":"left","baseline":"alphabetic","fontSize":40,"fontWeight":"bold","color":"#e8200a"},
    "encoding":{"x":{"datum":"emk","type":"nominal","scale":{"type":"point","domain":["banner","emk"],"range":[226,2252],"padding":0}},
     "y":{"datum":"emk","type":"nominal","scale":{"type":"point","domain":["emk","banner"],"range":[1326,1336],"padding":0}},
     "text":{"value":"e"}}},
   {"mark":{"type":"text","align":"left","baseline":"alphabetic","fontSize":40,"color":"#111111","dx":22.5},
    "encoding":{"x":{"datum":"emk","type":"nominal","scale":{"type":"point","domain":["banner","emk"],"range":[226,2252],"padding":0}},
     "y":{"datum":"emk","type":"nominal","scale":{"type":"point","domain":["emk","banner"],"range":[1326,1336],"padding":0}},
     "text":{"value":"Marketer"}}}
  ]},
 {"data":{"name":"one"},
  "layer":[
   {"mark":{"type":"point","shape":"circle","size":2827,"filled":true,"fill":"#ec2a10","opacity":1,"strokeWidth":0},
    "encoding":{"x":{"datum":"ball","type":"nominal","scale":{"type":"point","domain":["ball"],"range":[2210,2210],"padding":0}},
     "y":{"datum":"ball","type":"nominal","scale":{"type":"point","domain":["ball"],"range":[1317,1317],"padding":0}}}},
   {"mark":{"type":"text","align":"center","baseline":"middle","fontSize":44,"fontWeight":"bold","color":"#ffffff","dy":-2},
    "encoding":{"x":{"datum":"ball","type":"nominal","scale":{"type":"point","domain":["ball"],"range":[2210,2210],"padding":0}},
     "y":{"datum":"ball","type":"nominal","scale":{"type":"point","domain":["ball"],"range":[1317,1317],"padding":0}},
     "text":{"value":"e"}}}
  ]},
 {"data":{"name":"logo"},
  "mark":{"type":"point","size":14884,"filled":true,"opacity":1,"strokeWidth":0},
  "encoding":{"x":{"datum":"logo","type":"nominal","scale":{"type":"point","domain":["logo"],"range":[114,114],"padding":0}},
   "y":{"datum":"logo","type":"nominal","scale":{"type":"point","domain":["logo"],"range":[1319,1319],"padding":0}},
   "shape":{"field":"part","type":"nominal","scale":{"domain":["wl","wr","ll","lr"],"range":["M-0.967,-0.59 C-0.99,-0.4 -0.97,-0.15 -0.77,-0.066 L-0.098,0.213 C-0.08,0.05 -0.12,-0.2 -0.377,-0.311 Q-0.75,-0.45 -0.967,-0.59 Z","M0.967,-0.59 C0.99,-0.4 0.97,-0.15 0.77,-0.066 L0.098,0.213 C0.08,0.05 0.12,-0.2 0.377,-0.311 Q0.75,-0.45 0.967,-0.59 Z","M-0.148,0.295 C-0.35,0.34 -0.58,0.38 -0.63,0.46 C-0.68,0.52 -0.7,0.56 -0.754,0.59 C-0.6,0.52 -0.45,0.52 -0.3,0.5 C-0.16,0.48 -0.12,0.4 -0.148,0.295 Z","M0.148,0.295 C0.35,0.34 0.58,0.38 0.63,0.46 C0.68,0.52 0.7,0.56 0.754,0.59 C0.6,0.52 0.45,0.52 0.3,0.5 C0.16,0.48 0.12,0.4 0.148,0.295 Z"]}},
   "fill":{"field":"part","type":"nominal","scale":{"domain":["wl","wr","ll","lr"],"range":["#79c6d6","#e84432","#a81c3a","#a81c3a"]}}}}
],
"resolve": {"scale": {"x": "independent", "y": "independent", "color": "independent", "fill": "independent", "shape": "independent", "size": "independent", "opacity": "independent"}}
}
